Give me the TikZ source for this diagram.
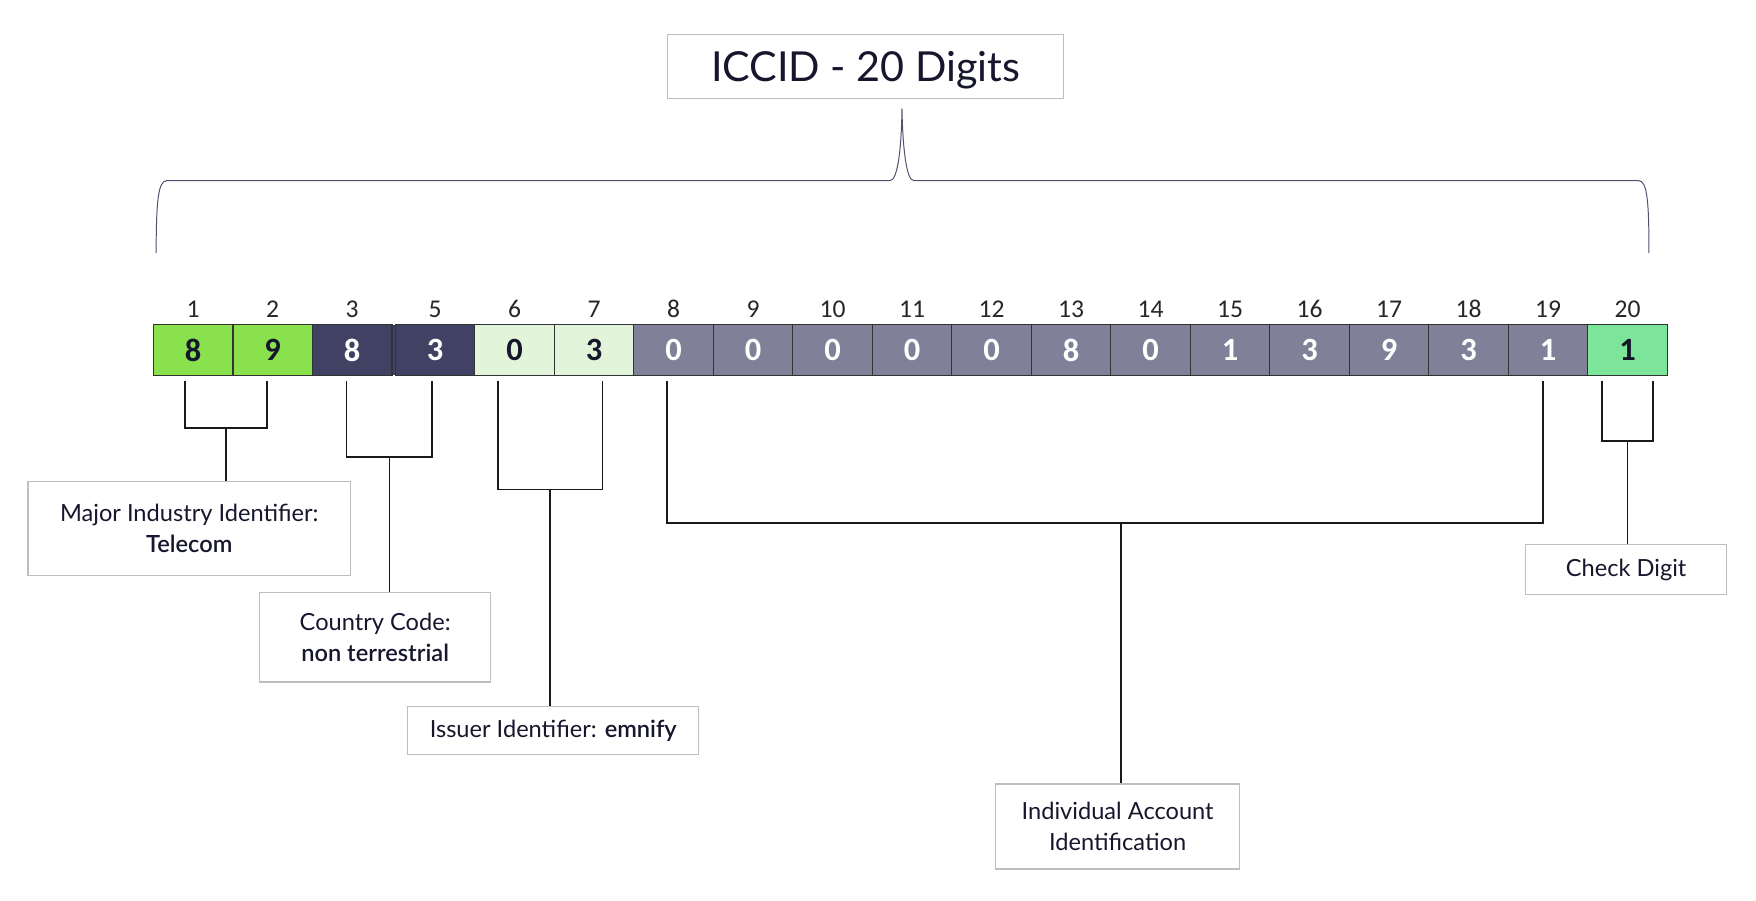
\documentclass[tikz,border=0pt]{standalone}
\usepackage{fontspec}
\setmainfont{Lato}[BoldFont={Lato Semibold}]
\newfontfamily\calibri{Carlito}
\usetikzlibrary{positioning}

\begin{document}
\begin{tikzpicture}[x=0.02cm, y=-0.02cm, thick]

\definecolor{limegreen}{RGB}{137, 225, 78}
\definecolor{darknavy}{RGB}{65, 66, 99}
\definecolor{palegreen}{RGB}{226, 245, 218}
\definecolor{slategray}{RGB}{128, 128, 152}
\definecolor{mintgreen}{RGB}{125, 229, 154}
\definecolor{inktext}{RGB}{22, 22, 45}
\definecolor{boxline}{RGB}{190, 190, 190}
\definecolor{braceline}{RGB}{80, 80, 112}

\tikzset{
  digit/.style={draw=black!80, line width=0.6pt, outer sep=0pt, inner sep=0pt, minimum width=1.42cm, minimum height=0.9cm, font=\calibri\bfseries\fontsize{16.5}{18}\selectfont},
  onlight/.style={text=inktext},
  ondark/.style={text=white},
  labelnum/.style={font=\calibri\fontsize{13}{15}\selectfont, text=black!85, label distance=0pt},
  infobox/.style={draw=boxline, line width=0.6pt, align=center, text=inktext, font=\fontsize{12}{16}\selectfont},
  bracket/.style={draw=black!90, line width=0.9pt},
  brace/.style={draw=braceline, line width=0.5pt}
}

\useasboundingbox (0,0) rectangle (1568,804);

% Title
\node[infobox, minimum width=7.08cm, minimum height=1.14cm, text depth=0pt, font=\fontsize{21}{24}\selectfont] (title) at (773,59.5) {ICCID - 20 Digits};

% Brace over all digits
\draw[brace] (139.4,226) .. controls (139.6,180) and (141,161.3) .. (149,161.3) -- (794.6,161.3)
  .. controls (802,161.3) and (805,130) .. (805.4,96.7)
  .. controls (806,130) and (809,161.3) .. (816,161.3) -- (1463,161.3)
  .. controls (1471,161.3) and (1472.4,180) .. (1472.4,226);

% Digit cells
\node[digit, fill=limegreen, onlight, label={[labelnum]above:1}] (d1) at (172.5,312.5) {8};
\node[digit, fill=limegreen, onlight, label={[labelnum]above:2}, right=0pt of d1] (d2) {9};
\node[digit, fill=darknavy, ondark, label={[labelnum]above:3}, right=0pt of d2] (d3) {8};
\node[digit, fill=darknavy, ondark, label={[labelnum]above:5}, right=0.06cm of d3] (d5) {3};
\fill[darknavy] (d3.north east) rectangle (d5.south west);
\draw[black!80, line width=0.6pt] (d3.north east) -- (d3.south east) (d5.north west) -- (d5.south west);
\node[digit, fill=palegreen, onlight, label={[labelnum]above:6}, right=0pt of d5] (d6) {0};
\node[digit, fill=palegreen, onlight, label={[labelnum]above:7}, right=0pt of d6] (d7) {3};
\node[digit, fill=slategray, ondark, label={[labelnum]above:8}, right=0pt of d7] (d8) {0};
\node[digit, fill=slategray, ondark, label={[labelnum]above:9}, right=0pt of d8] (d9) {0};
\node[digit, fill=slategray, ondark, label={[labelnum]above:10}, right=0pt of d9] (d10) {0};
\node[digit, fill=slategray, ondark, label={[labelnum]above:11}, right=0pt of d10] (d11) {0};
\node[digit, fill=slategray, ondark, label={[labelnum]above:12}, right=0pt of d11] (d12) {0};
\node[digit, fill=slategray, ondark, label={[labelnum]above:13}, right=0pt of d12] (d13) {8};
\node[digit, fill=slategray, ondark, label={[labelnum]above:14}, right=0pt of d13] (d14) {0};
\node[digit, fill=slategray, ondark, label={[labelnum]above:15}, right=0pt of d14] (d15) {1};
\node[digit, fill=slategray, ondark, label={[labelnum]above:16}, right=0pt of d15] (d16) {3};
\node[digit, fill=slategray, ondark, label={[labelnum]above:17}, right=0pt of d16] (d17) {9};
\node[digit, fill=slategray, ondark, label={[labelnum]above:18}, right=0pt of d17] (d18) {3};
\node[digit, fill=slategray, ondark, label={[labelnum]above:19}, right=0pt of d18] (d19) {1};
\node[digit, fill=mintgreen, onlight, label={[labelnum]above:20}, right=0pt of d19] (d20) {1};

% Description boxes
\node[infobox, minimum width=5.76cm, minimum height=1.68cm] (industry) at (169,472) {Major Industry Identifier:\\ \textbf{Telecom}};
\node[infobox, minimum width=4.12cm, minimum height=1.6cm] (country) at (335,569) {Country Code:\\ \textbf{non terrestrial}};
\node[infobox, minimum width=5.2cm, minimum height=0.86cm] (issuer) at (494,652.5) {Issuer Identifier: \textbf{emnify}};
\node[infobox, minimum width=4.36cm, minimum height=1.52cm] (account) at (998,738) {Individual Account\\ Identification};
\node[infobox, minimum width=3.6cm, minimum height=0.9cm] (check) at (1452,508.5) {Check Digit};

% Brackets from digits to boxes
\draw[bracket] ([xshift=-0.146cm, yshift=-0.1cm]d1.south) -- ++(0,42) -| coordinate[pos=0.25] (industryjoin) ([xshift=-0.1cm, yshift=-0.1cm]d2.south);
\draw[bracket] (industryjoin) -- (industryjoin |- industry.north);

\draw[bracket] ([xshift=-0.1cm, yshift=-0.1cm]d3.south) -- ++(0,68) -| coordinate[pos=0.25] (countryjoin) ([xshift=-0.05cm, yshift=-0.1cm]d5.south);
\draw[bracket] (countryjoin) -- (countryjoin |- country.north);

\draw[bracket] ([xshift=-0.29cm, yshift=-0.1cm]d6.south) -- ++(0,97) -| coordinate[pos=0.25] (issuerjoin) ([xshift=0.15cm, yshift=-0.1cm]d7.south);
\draw[bracket] (issuerjoin) -- (issuerjoin |- issuer.north);

\draw[bracket] ([xshift=-0.11cm, yshift=-0.1cm]d8.south) -- ++(0,127) -| coordinate[pos=0.259] (accountjoin) ([xshift=-0.09cm, yshift=-0.1cm]d19.south);
\draw[bracket] (accountjoin) -- (accountjoin |- account.north);

\draw[bracket] ([xshift=-0.46cm, yshift=-0.1cm]d20.south) -- ++(0,54) -| coordinate[pos=0.25] (checkjoin) ([xshift=0.46cm, yshift=-0.1cm]d20.south);
\draw[bracket] (checkjoin) -- (checkjoin |- check.north);

\end{tikzpicture}
\end{document}
